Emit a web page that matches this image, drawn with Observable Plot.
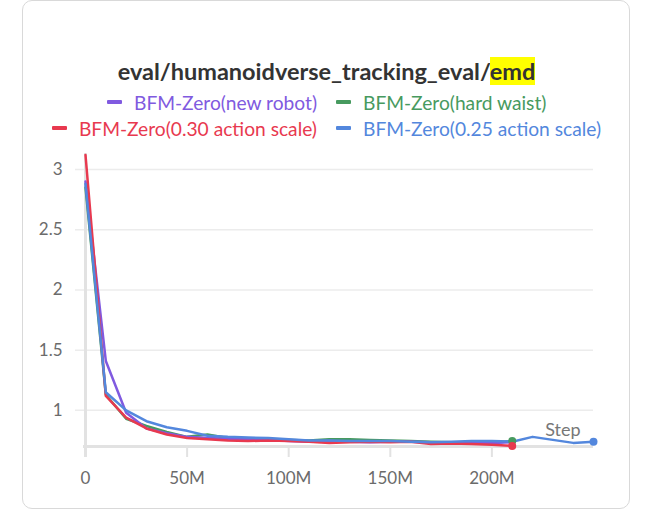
<!DOCTYPE html>
<html><head><meta charset="utf-8">
<script src="https://cdn.jsdelivr.net/npm/d3@7"></script>
<script src="https://cdn.jsdelivr.net/npm/@observablehq/plot@0.6"></script>
<style>
body{margin:0;background:#fff;width:657px;height:523px;position:relative;overflow:hidden;font-family:Lato,"Noto Sans",sans-serif;}
#card{position:absolute;left:22px;top:0;width:608px;height:509px;border:1px solid #d9d9d9;border-radius:10px;box-sizing:border-box;}
#title{position:absolute;left:0;width:653px;top:57px;text-align:center;font-weight:bold;font-size:23.5px;color:#333;line-height:28px;white-space:nowrap;}
#title .hl{background:#ffff00;}
#legend{position:absolute;top:89px;left:0;width:653px;display:grid;grid-template-columns:1fr 1fr;column-gap:19px;}
.item{display:flex;align-items:center;height:26px;font-size:19.2px;white-space:nowrap;}
.item.l{justify-content:flex-end;}
.sw{width:15px;height:3.5px;margin-right:12px;border-radius:1px;}
#chart{position:absolute;left:0;top:140px;}
</style></head>
<body>
<div id="card"></div>
<div id="title">eval/humanoidverse_tracking_eval/<span class="hl">emd</span></div>
<div id="legend"></div>
<div id="chart"></div>
<script>
// Step values in millions
const steps = [0,10,20,30,40,50,60,70,80,90,100,110,120,130,140,150,160,170,180,190,200,210];
const stepsBlue = [0,10,20,30,40,50,60,70,80,90,100,110,120,130,140,150,160,170,180,190,200,210,220,230,240,250];

const seriesNames = ["BFM-Zero(new robot)","BFM-Zero(hard waist)","BFM-Zero(0.30 action scale)","BFM-Zero(0.25 action scale)"];
const seriesColors = ["#805ae0","#479a5f","#e8394f","#5387dd"];

const newRobot = [2.90,1.41,0.98,0.85,0.81,0.78,0.77,0.765,0.76,0.755,0.745,0.74,0.745,0.74,0.735,0.74,0.74,0.735,0.73,0.73,0.73,0.735];
const hardWaist = [2.85,1.13,0.93,0.87,0.82,0.78,0.80,0.77,0.765,0.76,0.755,0.75,0.76,0.76,0.755,0.75,0.745,0.74,0.735,0.735,0.73,0.745];
const scale030 = [3.12,1.12,0.94,0.85,0.80,0.77,0.76,0.75,0.745,0.75,0.745,0.74,0.73,0.735,0.74,0.735,0.74,0.72,0.725,0.72,0.715,0.705];
const scale025 = [2.88,1.15,1.00,0.91,0.86,0.83,0.79,0.78,0.775,0.77,0.76,0.75,0.75,0.745,0.745,0.745,0.74,0.735,0.74,0.745,0.745,0.74,0.78,0.755,0.73,0.74];

const yTicks = [1,1.5,2,2.5,3];
const xTicks = [0,50,100,150,200];
const xLabels = ["0","50M","100M","150M","200M"];

const mk = (name, xs, ys) => xs.map((s,i)=>({series:name, step:s, value:ys[i]}));
const dNew = mk(seriesNames[0], steps, newRobot);
const dHard = mk(seriesNames[1], steps, hardWaist);
const d030 = mk(seriesNames[2], steps, scale030);
const d025 = mk(seriesNames[3], stepsBlue, scale025);

// legend (HTML)
const leg = document.getElementById("legend");
seriesNames.forEach((n,i)=>{
  const it = document.createElement("div");
  it.className = "item " + (i%2===0 ? "l" : "r");
  it.style.color = seriesColors[i];
  it.innerHTML = `<span class="sw" style="background:${seriesColors[i]}"></span><span>${n}</span>`;
  leg.appendChild(it);
});

const lineOpts = {x:"step", y:"value", stroke:"series", strokeWidth:2.5, strokeLinejoin:"round", strokeLinecap:"round"};
const dotOpts = {x:"step", y:"value", fill:"series", r:4};

const chart = Plot.plot({
  width:657, height:360,
  marginLeft:85, marginRight:64, marginTop:15, marginBottom:54,
  x:{domain:[0,250]},
  y:{domain:[0.70,3.116]},
  color:{domain:seriesNames, range:seriesColors},
  style:{fontFamily:"Lato, 'Noto Sans', sans-serif", fontSize:"17px", background:"transparent", overflow:"visible"},
  marks:[
    Plot.ruleY(yTicks, {stroke:"#ececec", strokeWidth:1.5, insetLeft:-10}),
    Plot.ruleX([0], {stroke:"#e2e2e2", strokeWidth:3, insetTop:-2, insetBottom:-11}),
    Plot.ruleY([0.70], {stroke:"#e2e2e2", strokeWidth:3, insetLeft:-2}),
    Plot.axisY({ticks:yTicks, tickSize:0, tickPadding:23, label:null, tickFormat:d=>String(d), fill:"#6b6b6b"}),
    Plot.axisX({ticks:xTicks, tickSize:11, tickPadding:14, label:null, stroke:"#e2e2e2", strokeWidth:2, fill:"#6b6b6b",
      tickFormat:d=>xLabels[xTicks.indexOf(d)]}),
    Plot.line(dHard, lineOpts),
    Plot.line(dNew, lineOpts),
    Plot.line(d030, lineOpts),
    Plot.line(d025, lineOpts),
    Plot.dot(dHard, Plot.selectLast(dotOpts)),
    Plot.dot(d030, Plot.selectLast(dotOpts)),
    Plot.dot(d025, Plot.selectLast(dotOpts)),
    Plot.text(["Step"], {frameAnchor:"bottom-right", textAnchor:"end", dx:-13, dy:-11, fill:"#777", fontSize:18})
  ]
});
document.getElementById("chart").appendChild(chart);
</script>
</body></html>
